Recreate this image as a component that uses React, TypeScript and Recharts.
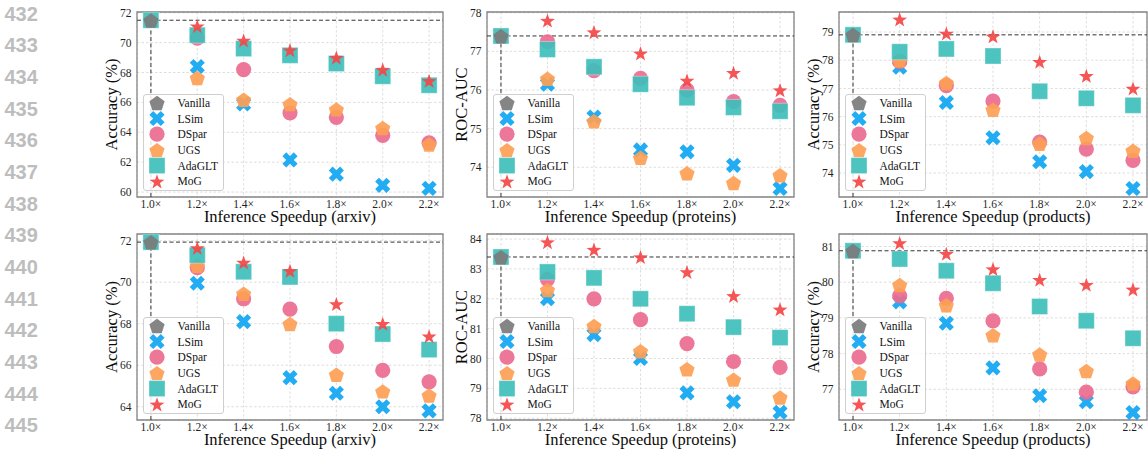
import React from 'react';
import {
  ScatterChart,
  Scatter,
  XAxis,
  YAxis,
  CartesianGrid,
  ReferenceLine,
  ReferenceArea,
  Legend,
} from 'recharts';

// ---------- data ----------
const speedups = [1.0, 1.2, 1.4, 1.6, 1.8, 2.0, 2.2];
const methodNames = ['Vanilla', 'LSim', 'DSpar', 'UGS', 'AdaGLT', 'MoG'];
const lineNumbers = [432, 433, 434, 435, 436, 437, 438, 439, 440, 441, 442, 443, 444, 445];

// top row: arxiv
const arxivTopVanilla = 71.5;
const arxivTopLSim = [68.4, 65.9, 62.15, 61.2, 60.45, 60.25];
const arxivTopDSpar = [70.3, 68.2, 65.3, 65.0, 63.8, 63.3];
const arxivTopUGS = [67.65, 66.2, 65.9, 65.55, 64.3, 63.2];
const arxivTopAdaGLT = [71.5, 70.5, 69.6, 69.15, 68.6, 67.75, 67.15];
const arxivTopMoG = [71.1, 70.15, 69.5, 69.0, 68.2, 67.45];

// top row: proteins
const proteinsTopVanilla = 77.4;
const proteinsTopLSim = [76.15, 75.3, 74.45, 74.4, 74.05, 73.45];
const proteinsTopDSpar = [77.25, 76.5, 76.3, 76.0, 75.7, 75.6];
const proteinsTopUGS = [76.3, 75.2, 74.25, 73.85, 73.6, 73.8];
const proteinsTopAdaGLT = [77.4, 77.05, 76.6, 76.15, 75.8, 75.55, 75.45];
const proteinsTopMoG = [77.8, 77.5, 76.95, 76.25, 76.45, 76.0];

// top row: products
const productsTopVanilla = 78.9;
const productsTopLSim = [77.75, 76.5, 75.25, 74.4, 74.05, 73.45];
const productsTopDSpar = [77.95, 77.1, 76.55, 75.1, 74.85, 74.45];
const productsTopUGS = [78.0, 77.2, 76.25, 75.05, 75.25, 74.8];
const productsTopAdaGLT = [78.9, 78.3, 78.4, 78.15, 76.9, 76.65, 76.4];
const productsTopMoG = [79.45, 78.95, 78.85, 77.95, 77.45, 77.0];

// bottom row: arxiv
const arxivBotVanilla = 71.93;
const arxivBotLSim = [69.95, 68.1, 65.4, 64.65, 64.0, 63.8];
const arxivBotDSpar = [70.7, 69.2, 68.7, 66.9, 65.75, 65.2];
const arxivBotUGS = [70.8, 69.45, 68.0, 65.55, 64.75, 64.55];
const arxivBotAdaGLT = [71.93, 71.3, 70.5, 70.25, 68.0, 67.5, 66.75];
const arxivBotMoG = [71.65, 70.95, 70.55, 68.95, 68.0, 67.4];

// bottom row: proteins
const proteinsBotVanilla = 83.4;
const proteinsBotLSim = [82.0, 80.8, 80.0, 78.85, 78.55, 78.2];
const proteinsBotDSpar = [82.65, 82.0, 81.3, 80.5, 79.9, 79.7];
const proteinsBotUGS = [82.3, 81.1, 80.25, 79.65, 79.3, 78.7];
const proteinsBotAdaGLT = [83.4, 82.9, 82.7, 82.0, 81.5, 81.05, 80.7];
const proteinsBotMoG = [83.9, 83.65, 83.4, 82.9, 82.1, 81.65];

// bottom row: products
const productsBotVanilla = 80.88;
const productsBotLSim = [79.45, 78.85, 77.6, 76.82, 76.65, 76.35];
const productsBotDSpar = [79.62, 79.55, 78.92, 77.57, 76.92, 77.07];
const productsBotUGS = [79.93, 79.36, 78.52, 77.98, 77.52, 77.17];
const productsBotAdaGLT = [80.88, 80.65, 80.32, 79.97, 79.32, 78.92, 78.43];
const productsBotMoG = [81.1, 80.8, 80.37, 80.07, 79.93, 79.8];

// ---------- styling ----------
const COLORS: Record<string, string> = {
  Vanilla: '#7b7b7b',
  LSim: '#0ea5f2',
  DSpar: '#eb6b8f',
  UGS: '#fd9f55',
  AdaGLT: '#3ebfbb',
  MoG: '#f44646',
};
const SERIF = '"Liberation Serif", "Times New Roman", serif';
const X_DOMAIN = [0.94, 2.26];

function polyPoints(pts: number[][]) {
  return pts.map((p) => `${p[0].toFixed(2)},${p[1].toFixed(2)}`).join(' ');
}

function MarkerGlyph({ kind, cx, cy }: { kind: string; cx: number; cy: number }) {
  const color = COLORS[kind];
  const op = 0.92;
  if (cx == null || cy == null || isNaN(cx) || isNaN(cy)) return null;
  if (kind === 'Vanilla' || kind === 'UGS') {
    const R = 8;
    const pts = [];
    for (let k = 0; k < 5; k++) {
      const a = (-90 + 72 * k) * (Math.PI / 180);
      pts.push([cx + R * Math.cos(a), cy + 1 + R * Math.sin(a)]);
    }
    return <polygon points={polyPoints(pts)} fill={color} fillOpacity={op} />;
  }
  if (kind === 'LSim') {
    const L = 8.0;
    const w = 2.7;
    const base = [
      [-w, -L], [w, -L], [w, -w], [L, -w], [L, w], [w, w],
      [w, L], [-w, L], [-w, w], [-L, w], [-L, -w], [-w, -w],
    ];
    const c = Math.SQRT1_2;
    const pts = base.map(([x, y]) => [cx + (x - y) * c, cy + (x + y) * c]);
    return <polygon points={polyPoints(pts)} fill={color} fillOpacity={op} />;
  }
  if (kind === 'DSpar') {
    return <circle cx={cx} cy={cy} r={7.6} fill={color} fillOpacity={op} />;
  }
  if (kind === 'AdaGLT') {
    const s = 16;
    return (
      <rect
        x={cx - s / 2}
        y={cy - s / 2}
        width={s}
        height={s}
        fill={color}
        fillOpacity={op}
        stroke="#ffffff"
        strokeOpacity={0.35}
        strokeWidth={1}
      />
    );
  }
  // MoG star
  const R = 7.8;
  const r = R * 0.4;
  const pts = [];
  for (let k = 0; k < 10; k++) {
    const a = (-90 + 36 * k) * (Math.PI / 180);
    const rr = k % 2 === 0 ? R : r;
    pts.push([cx + rr * Math.cos(a), cy + 0.8 + rr * Math.sin(a)]);
  }
  return <polygon points={polyPoints(pts)} fill={color} fillOpacity={op} />;
}

function toPoints(values: number[], withBase: boolean) {
  const xs = withBase ? speedups : speedups.slice(1);
  return xs.map((x, i) => ({ x, y: values[i] }));
}

type PanelProps = {
  px: number;
  py: number;
  pw: number;
  ph: number;
  yDomain: number[];
  yTicks: number[];
  yLabel: string;
  xLabel: string;
  vanilla: number;
  lsim: number[];
  dspar: number[];
  ugs: number[];
  adaglt: number[];
  mog: number[];
};

const YW = 60;
const TOPM = 5;

function LegendBox() {
  const w = 81;
  const h = 97;
  const rowY = [8.8, 24.5, 40.2, 55.9, 71.6, 87.3];
  return (
    <svg width={w} height={h} style={{ display: 'block' }}>
      <rect
        x={0.5}
        y={0.5}
        width={w - 1}
        height={h - 1}
        rx={2.5}
        ry={2.5}
        fill="#ffffff"
        fillOpacity={0.85}
        stroke="#cfcfcf"
        strokeWidth={1}
      />
      {methodNames.map((m, i) => (
        <g key={m}>
          <MarkerGlyph kind={m} cx={14} cy={rowY[i]} />
          <text
            x={34.5}
            y={rowY[i] + 4}
            fontFamily={SERIF}
            fontSize={11.5}
            fill="#111"
          >
            {m}
          </text>
        </g>
      ))}
    </svg>
  );
}

function Panel(p: PanelProps) {
  const left = p.px - YW;
  const top = p.py - TOPM;
  const width = p.pw + YW + 2;
  const height = p.ph + TOPM + 36;
  const series: [string, number[], boolean][] = [
    ['LSim', p.lsim, false],
    ['DSpar', p.dspar, false],
    ['UGS', p.ugs, false],
    ['AdaGLT', p.adaglt, true],
    ['MoG', p.mog, false],
    ['Vanilla', [p.vanilla], true],
  ];
  const tickStyle = { fontSize: 11.5, fill: '#1f1f1f', fontFamily: SERIF };
  return (
    <div style={{ position: 'absolute', left, top, width, height }}>
      <ScatterChart
        width={width}
        height={height}
        margin={{ top: TOPM, right: 2, bottom: 0, left: 0 }}
      >
        <CartesianGrid strokeDasharray="2.5 2" stroke="#dadada" strokeWidth={0.9} />
        <XAxis
          type="number"
          dataKey="x"
          domain={X_DOMAIN}
          ticks={speedups}
          interval={0}
          allowDataOverflow
          tickFormatter={(v: number) => `${v.toFixed(1)}×`}
          height={36}
          axisLine={false}
          tickLine={false}
          tickSize={2}
          tickMargin={1}
          tick={tickStyle}
          label={() => (
            <text
              x={YW + p.pw / 2}
              y={TOPM + p.ph + 25}
              textAnchor="middle"
              fontFamily={SERIF}
              fontSize={16.5}
              fill="#0d0d0d"
            >
              {p.xLabel}
            </text>
          )}
        />
        <YAxis
          type="number"
          dataKey="y"
          domain={p.yDomain}
          ticks={p.yTicks}
          interval={0}
          allowDataOverflow
          width={YW}
          axisLine={false}
          tickLine={false}
          tickSize={3}
          tickMargin={2.5}
          tick={tickStyle}
          label={() => (
            <text
              x={YW - 20}
              y={TOPM + p.ph / 2}
              transform={`rotate(-90, ${YW - 20}, ${TOPM + p.ph / 2})`}
              textAnchor="middle"
              fontFamily={SERIF}
              fontSize={16.5}
              fill="#0d0d0d"
            >
              {p.yLabel}
            </text>
          )}
        />
        <ReferenceLine
          y={p.vanilla}
          stroke="#333"
          strokeWidth={1}
          strokeDasharray="4 2.5"
        />
        <ReferenceLine
          segment={[
            { x: 1.0, y: p.yDomain[0] },
            { x: 1.0, y: p.vanilla },
          ]}
          stroke="#333"
          strokeWidth={1}
          strokeDasharray="4 2.5"
        />
        <ReferenceArea
          x1={X_DOMAIN[0]}
          x2={X_DOMAIN[1]}
          y1={p.yDomain[0]}
          y2={p.yDomain[1]}
          fill="none"
          fillOpacity={0}
          stroke="#858585"
          strokeWidth={1.3}
        />
        {series.map(([name, vals, withBase]) => (
          <Scatter
            key={name}
            name={name}
            data={toPoints(vals, withBase)}
            isAnimationActive={false}
            shape={(sp: any) => <MarkerGlyph kind={name} cx={sp.cx} cy={sp.cy} />}
          />
        ))}
        <Legend
          layout="horizontal"
          verticalAlign="middle"
          align="center"
          wrapperStyle={{
            position: 'absolute',
            left: YW + 5.7,
            top: TOPM + p.ph - 6.3 - 97,
            width: 81,
            height: 97,
          }}
          content={() => <LegendBox />}
        />
      </ScatterChart>
    </div>
  );
}

export default function App() {
  return (
    <div
      style={{
        position: 'absolute',
        left: 0,
        top: 0,
        width: 1148,
        height: 450,
        background: '#ffffff',
        overflow: 'hidden',
      }}
    >
      <svg
        width={50}
        height={450}
        style={{ position: 'absolute', left: 0, top: 0 }}
      >
        {lineNumbers.map((n, i) => (
          <text
            key={n}
            x={4.5}
            y={13.3 + 31.67 * i + 7.2}
            fontFamily='"Liberation Sans", Arial, sans-serif'
            fontWeight={700}
            fontSize={20}
            fill="#bdbdbd"
          >
            {n}
          </text>
        ))}
      </svg>
      <Panel
        px={137} py={12} pw={306} ph={185}
        yDomain={[59.67, 72.05]} yTicks={[60, 62, 64, 66, 68, 70, 72]}
        yLabel="Accuracy (%)" xLabel="Inference Speedup (arxiv)"
        vanilla={arxivTopVanilla} lsim={arxivTopLSim} dspar={arxivTopDSpar}
        ugs={arxivTopUGS} adaglt={arxivTopAdaGLT} mog={arxivTopMoG}
      />
      <Panel
        px={487} py={12} pw={307} ph={185}
        yDomain={[73.23, 78.02]} yTicks={[74, 75, 76, 77, 78]}
        yLabel="ROC-AUC" xLabel="Inference Speedup (proteins)"
        vanilla={proteinsTopVanilla} lsim={proteinsTopLSim} dspar={proteinsTopDSpar}
        ugs={proteinsTopUGS} adaglt={proteinsTopAdaGLT} mog={proteinsTopMoG}
      />
      <Panel
        px={839} py={12} pw={308} ph={185}
        yDomain={[73.15, 79.71]} yTicks={[74, 75, 76, 77, 78, 79]}
        yLabel="Accuracy (%)" xLabel="Inference Speedup (products)"
        vanilla={productsTopVanilla} lsim={productsTopLSim} dspar={productsTopDSpar}
        ugs={productsTopUGS} adaglt={productsTopAdaGLT} mog={productsTopMoG}
      />
      <Panel
        px={137} py={234} pw={306} ph={186}
        yDomain={[63.36, 72.32]} yTicks={[64, 66, 68, 70, 72]}
        yLabel="Accuracy (%)" xLabel="Inference Speedup (arxiv)"
        vanilla={arxivBotVanilla} lsim={arxivBotLSim} dspar={arxivBotDSpar}
        ugs={arxivBotUGS} adaglt={arxivBotAdaGLT} mog={arxivBotMoG}
      />
      <Panel
        px={487} py={234} pw={307} ph={186}
        yDomain={[77.94, 84.17]} yTicks={[78, 79, 80, 81, 82, 83, 84]}
        yLabel="ROC-AUC" xLabel="Inference Speedup (proteins)"
        vanilla={proteinsBotVanilla} lsim={proteinsBotLSim} dspar={proteinsBotDSpar}
        ugs={proteinsBotUGS} adaglt={proteinsBotAdaGLT} mog={proteinsBotMoG}
      />
      <Panel
        px={839} py={234} pw={308} ph={186}
        yDomain={[76.14, 81.35]} yTicks={[77, 78, 79, 80, 81]}
        yLabel="Accuracy (%)" xLabel="Inference Speedup (products)"
        vanilla={productsBotVanilla} lsim={productsBotLSim} dspar={productsBotDSpar}
        ugs={productsBotUGS} adaglt={productsBotAdaGLT} mog={productsBotMoG}
      />
    </div>
  );
}
